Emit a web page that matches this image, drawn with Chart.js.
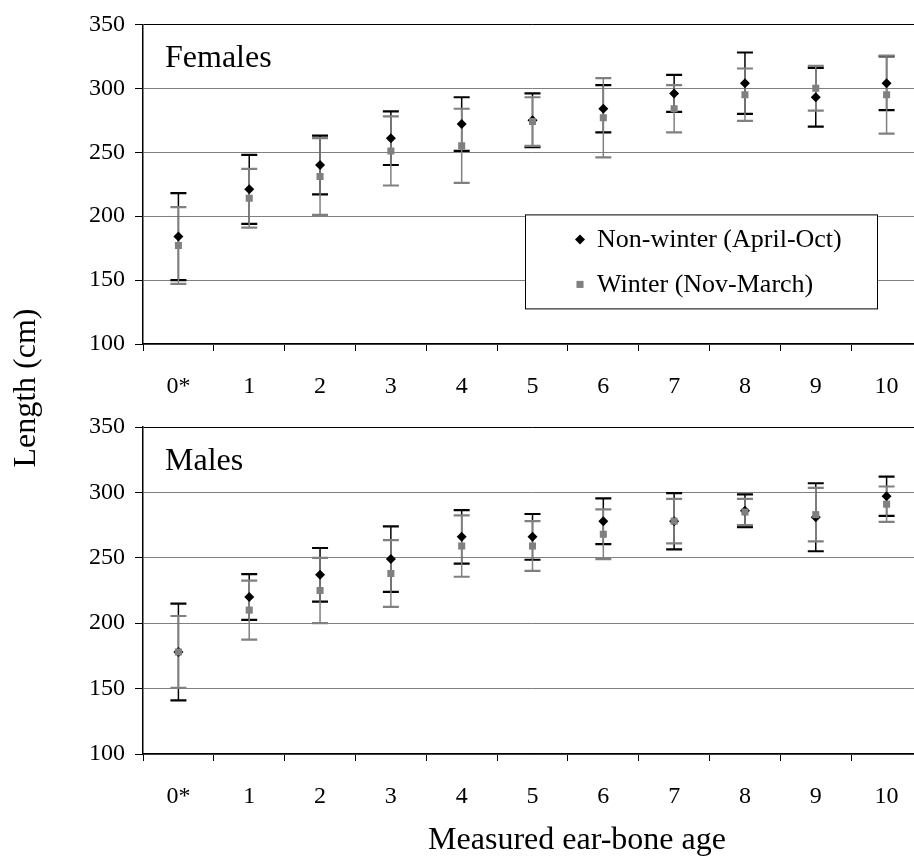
<!DOCTYPE html>
<html>
<head>
<meta charset="utf-8">
<script src="https://cdn.jsdelivr.net/npm/chart.js@4.4.1/dist/chart.umd.min.js"></script>
<style>
  html, body { margin: 0; padding: 0; background: #fff; overflow: hidden; }
  #wrap { position: relative; width: 914px; height: 857px; overflow: hidden; }
  canvas { position: absolute; left: 0; top: 0; }
</style>
</head>
<body>
<div id="wrap">
  <canvas id="females" width="930" height="857"></canvas>
  <canvas id="males" width="930" height="857"></canvas>
</div>
<script>
// measured ear-bone age categories
const ages = ['0*', '1', '2', '3', '4', '5', '6', '7', '8', '9', '10'];
const yTicks = [100, 150, 200, 250, 300, 350];

// mean length (cm) and +/- error
const femaleNonWinter    = [184, 221, 240, 261, 272, 275, 284, 296, 304, 293, 304];
const femaleNonWinterErr = [34, 27, 23, 21, 21, 21, 18.5, 14.5, 24, 23, 21];
const femaleWinter       = [177, 214, 231, 251, 255, 274, 277, 284, 295, 300, 295];
const femaleWinterErr    = [30, 23, 30, 27, 29, 19, 31, 18.5, 20.5, 17.5, 30.5];

const maleNonWinter    = [178, 220, 237, 249, 266, 266, 278, 278, 286, 281, 297];
const maleNonWinterErr = [37, 17.5, 20.5, 25, 20.5, 17.5, 17.5, 21.5, 12.5, 26, 15];
const maleWinter       = [178, 210, 225, 238, 259, 259, 268, 278, 285, 283, 291];
const maleWinterErr    = [27.5, 22.5, 25, 25.5, 23.5, 19, 19, 17, 10, 20.5, 13.5];

const seriesNames = ['Non-winter (April-Oct)', 'Winter (Nov-March)'];

const FONT = '"Liberation Serif", "Times New Roman", serif';
const GRAY = '#808080';
Chart.defaults.font.family = FONT;
Chart.defaults.color = '#000';

// error bars go under every marker
const errorBars = {
  id: 'errorBars',
  beforeDatasetsDraw(chart) {
    const ctx = chart.ctx;
    const y = chart.scales.y;
    chart.data.datasets.forEach((ds, i) => {
      const meta = chart.getDatasetMeta(i);
      ctx.save();
      ctx.strokeStyle = ds.barColor;
      meta.data.forEach((pt, j) => {
        const top = y.getPixelForValue(ds.data[j] + ds.errors[j]);
        const bot = y.getPixelForValue(ds.data[j] - ds.errors[j]);
        ctx.lineWidth = 1.5;
        ctx.beginPath();
        ctx.moveTo(pt.x, top);
        ctx.lineTo(pt.x, bot);
        ctx.stroke();
        ctx.lineWidth = 2.2;
        ctx.beginPath();
        ctx.moveTo(pt.x - 8, top); ctx.lineTo(pt.x + 8, top);
        ctx.moveTo(pt.x - 8, bot); ctx.lineTo(pt.x + 8, bot);
        ctx.stroke();
      });
      ctx.restore();
    });
  }
};

// panel name, floating legend and the shared axis titles
const decor = {
  id: 'decor',
  afterDraw(chart, args, opts) {
    const { ctx, chartArea } = chart;
    ctx.save();
    ctx.fillStyle = '#000';
    ctx.font = '32px ' + FONT;
    ctx.textBaseline = 'alphabetic';
    ctx.fillText(opts.name, chartArea.left + 22, chartArea.top + 43);

    if (opts.legend) {
      const bx = chartArea.left + 382, by = chartArea.top + 190;
      ctx.fillStyle = '#fff';
      ctx.fillRect(bx, by, 352, 94);
      ctx.strokeStyle = '#000';
      ctx.lineWidth = 1;
      ctx.strokeRect(bx + 0.5, by + 0.5, 352, 94);
      ctx.font = '26px ' + FONT;
      ctx.textBaseline = 'middle';
      chart.data.datasets.forEach((ds, i) => {
        const ly = by + 25 + i * 45;
        ctx.fillStyle = ds.pointBackgroundColor;
        Chart.helpers.drawPoint(ctx, { pointStyle: ds.pointStyle, radius: 5, borderWidth: 0 }, bx + 55, ly);
        ctx.fillStyle = '#000';
        ctx.fillText(ds.label, bx + 72, ly + 1);
      });
    }

    ctx.font = '32px ' + FONT;
    ctx.fillStyle = '#000';
    ctx.textAlign = 'center';
    ctx.textBaseline = 'middle';
    if (opts.yTitle) {
      ctx.save();
      ctx.translate(27, 388);
      ctx.rotate(-Math.PI / 2);
      ctx.fillText(opts.yTitle, 0, 0);
      ctx.restore();
    }
    if (opts.xTitle) {
      ctx.fillText(opts.xTitle, 577, 841);
    }
    ctx.restore();
  }
};

function makePanel(id, name, nonWinter, nonWinterErr, winter, winterErr, top, bottom, extra) {
  return new Chart(document.getElementById(id), {
    type: 'line',
    data: {
      labels: ages,
      datasets: [
        {
          label: seriesNames[0], data: nonWinter, errors: nonWinterErr, barColor: '#000',
          showLine: false, pointStyle: 'rectRot', pointRadius: 5,
          pointBackgroundColor: '#000', pointBorderWidth: 0, order: 1
        },
        {
          label: seriesNames[1], data: winter, errors: winterErr, barColor: GRAY,
          showLine: false, pointStyle: 'rect', pointRadius: 5,
          pointBackgroundColor: GRAY, pointBorderWidth: 0, order: 0
        }
      ]
    },
    options: {
      responsive: false,
      animation: false,
      events: [],
      layout: { padding: { top: top, left: 0, right: 8, bottom: 0 } },
      scales: {
        x: {
          offset: true,
          grid: { offset: true, drawOnChartArea: false, tickLength: 7, color: '#000', lineWidth: 1 },
          border: { color: '#000', width: 1.5 },
          ticks: { font: { size: 24 }, color: '#000', padding: 21, maxRotation: 0 },
          afterFit: s => { s.height = 857 - bottom; }
        },
        y: {
          min: 100, max: 350,
          afterBuildTicks: s => { s.ticks = yTicks.map(v => ({ value: v })); },
          grid: {
            color: c => (c.tick && c.tick.value === 350 ? '#000' : GRAY),
            tickColor: '#000', tickLength: 8, lineWidth: 1
          },
          border: { color: '#000', width: 1.5 },
          ticks: { font: { size: 24 }, color: '#000', padding: 10 },
          afterFit: s => { s.width = 143; }
        }
      },
      plugins: {
        legend: { display: false },
        tooltip: { enabled: false },
        decor: Object.assign({ name: name }, extra)
      }
    },
    plugins: [errorBars, decor]
  });
}

makePanel('females', 'Females', femaleNonWinter, femaleNonWinterErr, femaleWinter, femaleWinterErr,
  19, 344, { legend: true, yTitle: 'Length (cm)' });
makePanel('males', 'Males', maleNonWinter, maleNonWinterErr, maleWinter, maleWinterErr,
  427, 754, { xTitle: 'Measured ear-bone age' });
</script>
</body>
</html>
